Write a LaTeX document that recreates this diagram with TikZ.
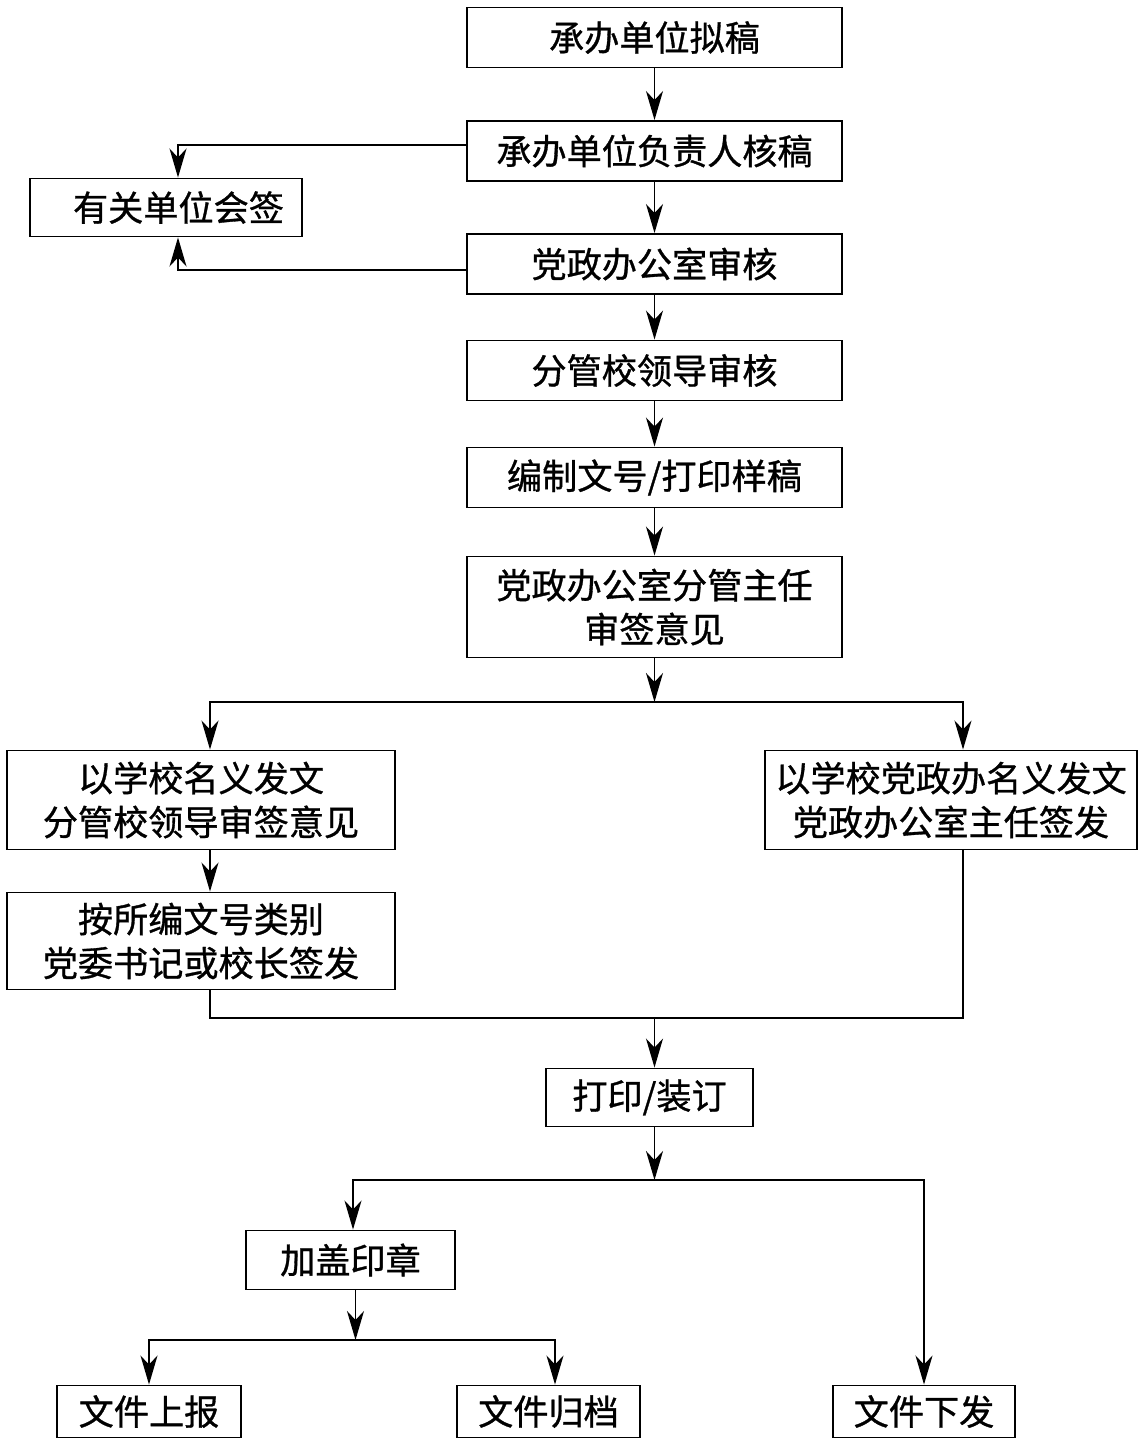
\documentclass[tikz,border=0pt]{standalone}
\usepackage{fontspec}
\newfontfamily\cjk{Noto Sans CJK SC}[FakeBold=0.9]
\usetikzlibrary{arrows.meta,positioning,calc}

\begin{document}
\begin{tikzpicture}[
  box/.style={draw, line width=1.1pt, minimum width=7.5cm, minimum height=1.2cm,
    inner sep=0pt, align=center, font=\cjk\fontsize{20}{25}\selectfont},
  arr/.style={-{Stealth[length=5.8mm, width=3.4mm, inset=1.8mm]}, line width=1.1pt},
  ln/.style={line width=1.1pt}
]
  \useasboundingbox (0,0) rectangle (22.96,-28.84);

  % main column
  \node[box] (ni) at (13.09,-0.75) {承办单位拟稿};
  \node[box] (hegao) at (13.09,-3.02) {承办单位负责人核稿};
  \node[box] (shenhe) at (13.09,-5.28) {党政办公室审核};
  \node[box] (fgshenhe) at (13.09,-7.41) {分管校领导审核};
  \node[box] (bianzhi) at (13.09,-9.55) {编制文号/打印样稿};
  \node[box, minimum height=2.02cm] (zhuren) at (13.09,-12.14) {党政办公室分管主任\\审签意见};

  \node[box, minimum width=5.44cm, minimum height=1.16cm] (huiqian) at (3.32,-4.15) {\hspace{0.5cm}有关单位会签};

  % two routes
  \node[box, minimum width=7.76cm, minimum height=1.98cm] (xiaoming) at (4.02,-16.0) {以学校名义发文\\分管校领导审签意见};
  \node[box, minimum width=7.76cm, minimum height=1.94cm] (anbian) at (4.02,-18.82) {按所编文号类别\\党委书记或校长签发};
  \node[box, minimum width=7.44cm, minimum height=1.98cm] (dangzheng) at (19.02,-16.0) {以学校党政办名义发文\\党政办公室主任签发};

  % finishing
  \node[box, minimum width=4.14cm, minimum height=1.16cm] (zhuangding) at (12.99,-21.95) {打印/装订};
  \node[box, minimum width=4.18cm, minimum height=1.18cm] (gaizhang) at (7.01,-25.2) {加盖印章};
  \node[box, minimum width=3.68cm, minimum height=1.04cm] (shangbao) at (2.98,-28.23) {文件上报};
  \node[box, minimum width=3.66cm, minimum height=1.04cm] (guidang) at (10.97,-28.23) {文件归档};
  \node[box, minimum width=3.64cm, minimum height=1.04cm] (xiafa) at (18.48,-28.23) {文件下发};

  \coordinate (fen) at (13.09,-14.04);
  \coordinate (fenL) at (4.2,-14.04);
  \coordinate (fenR) at (19.26,-14.04);
  \coordinate (he) at (13.09,-20.36);
  \coordinate (fen2) at (13.09,-23.6);
  \coordinate (fen3) at (7.11,-26.8);

  \draw[arr] (ni) -- (hegao);
  \draw[arr] (hegao) -- (shenhe);
  \draw[arr] ([yshift=0.12cm]hegao.west) -| ([xshift=0.24cm]huiqian.north);
  \draw[arr] ([yshift=-0.12cm]shenhe.west) -| ([xshift=0.24cm]huiqian.south);
  \draw[arr] (shenhe) -- (fgshenhe);
  \draw[arr] (fgshenhe) -- (bianzhi);
  \draw[arr] (bianzhi) -- (zhuren);

  \draw[arr] (zhuren) -- (fen);
  \draw[arr] (fen) -| (fenL |- xiaoming.north);
  \draw[arr] (fen) -| (fenR |- dangzheng.north);
  \draw[arr] (fenL |- xiaoming.south) -- (fenL |- anbian.north);

  \draw[ln] (fenL |- anbian.south) |- (he) -| (fenR |- dangzheng.south);
  \draw[arr] (he) -- (he |- zhuangding.north);

  \draw[arr] (fen2 |- zhuangding.south) -- (fen2);
  \draw[arr] (fen2) -| ([xshift=0.05cm]gaizhang.north);
  \draw[arr] (fen2) -| (xiafa.north);

  \draw[arr] (fen3 |- gaizhang.south) -- (fen3);
  \draw[arr] (fen3) -| (shangbao.north);
  \draw[arr] (fen3) -| ([xshift=0.13cm]guidang.north);
\end{tikzpicture}
\end{document}
